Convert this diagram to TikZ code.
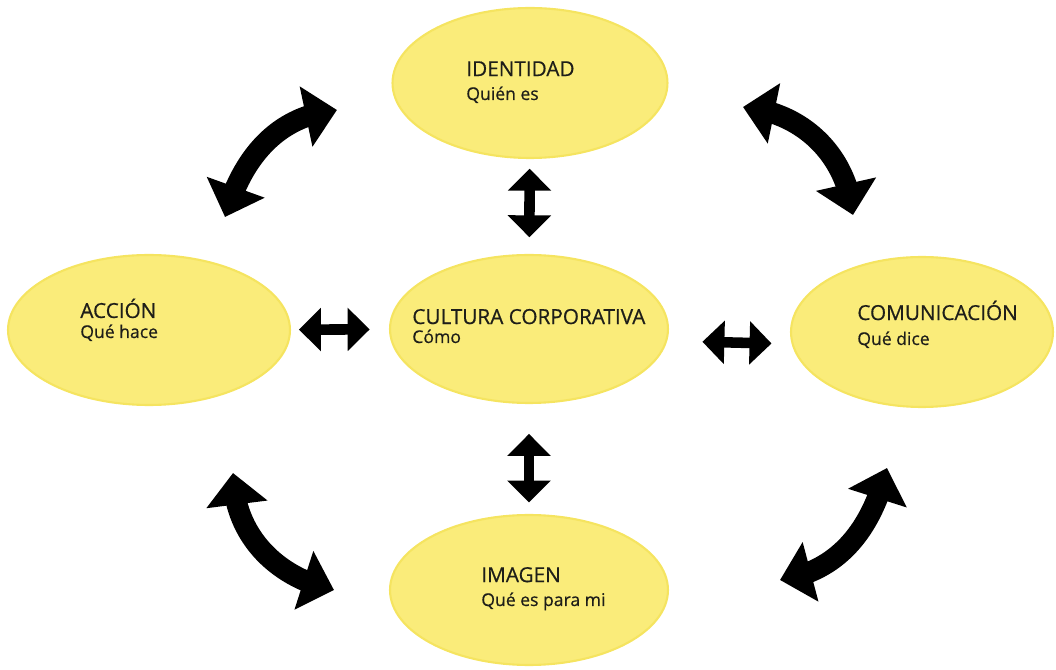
\documentclass[tikz,border=0pt]{standalone}
\usepackage{fontspec}
\setmainfont[FakeBold=0.5]{Open Sans}
\usepackage{tikz}
\usetikzlibrary{shapes.geometric}
\usetikzlibrary{arrows.meta,bending}

\definecolor{ovalfill}{RGB}{250,236,122}
\definecolor{ovaledge}{RGB}{245,228,96}
\definecolor{ovalink}{RGB}{30,30,25}

\begin{document}
\begin{tikzpicture}[
  x=0.02cm, y=0.02cm,
  oval/.style={ellipse, fill=ovalfill, draw=ovaledge, line width=1.2pt,
    minimum width=5.5cm, minimum height=3cm, inner sep=0pt},
  ovaltext/.style={anchor=base west, align=left, inner sep=0pt, text=ovalink,
    font=\fontsize{11.8}{13}\selectfont},
  straightarrow/.style={line width=6pt,
    {Triangle[width=24pt,length=12.5pt]}-{Triangle[width=24pt,length=12.5pt]}},
  bigarrow/.style={line width=12pt,
    {Triangle[width=34pt,length=18pt]}-{Triangle[width=34pt,length=18pt]}}
]
\useasboundingbox (0,0) rectangle (1056,670);

\node [oval] (ident) at (530,587) {};
\node [oval, minimum width=5.56cm, minimum height=2.96cm] (cultura) at (529,341) {};
\node [oval, minimum width=5.64cm] (accion) at (149,340) {};
\node [oval, minimum width=5.24cm] (comunic) at (922,338) {};
\node [oval, minimum width=5.56cm] (imagen) at (529,80) {};

\node [ovaltext] (identtxt) at (466,570)
  {IDENTIDAD\\[0.6pt]{\fontsize{10}{13}\selectfont Quién es}};
\node [ovaltext] (culturatxt) at (412,327)
  {CULTURA CORPORATIVA\\[-2.2pt]{\fontsize{10}{13}\selectfont Cómo}};
\node [ovaltext] (acciontxt) at (80,332)
  {ACCIÓN\\[-1.6pt]{\fontsize{10}{13}\selectfont Qué hace}};
\node [ovaltext] (comunictxt) at (857,325)
  {COMUNICACIÓN\\[1.2pt]{\fontsize{10}{13}\selectfont Qué dice}};
\node [ovaltext] (imagentxt) at (481,64)
  {IMAGEN\\[0.6pt]{\fontsize{10}{13}\selectfont Qué es para mi}};

\draw [straightarrow, shorten <=5.5pt, shorten >=9.5pt] (ident) -- (cultura);
\draw [straightarrow, shorten <=17pt, shorten >=6.5pt] (cultura) -- (imagen);
\draw [straightarrow, shorten <=4.5pt, shorten >=11pt] (accion) -- (cultura);
\draw [straightarrow, shorten <=19pt, shorten >=10.5pt]
  ([yshift=-6.8pt]cultura.east) -- ([yshift=-6.8pt]comunic.west);

\coordinate (tlA) at (225,453);
\coordinate (tlB) at (337,560);
\coordinate (trA) at (743,563);
\coordinate (trB) at (853,455);
\coordinate (blA) at (233,197);
\coordinate (blB) at (334,80);
\coordinate (brA) at (780,90);
\coordinate (brB) at (887,202);

\draw [bigarrow] (tlA) to[out=74, in=185] (tlB);
\draw [bigarrow] (trA) to[out=-5, in=96] (trB);
\draw [bigarrow] (blA) to[out=-90, in=168] (blB);
\draw [bigarrow] (brA) to[out=8, in=-104] (brB);

\end{tikzpicture}
\end{document}
